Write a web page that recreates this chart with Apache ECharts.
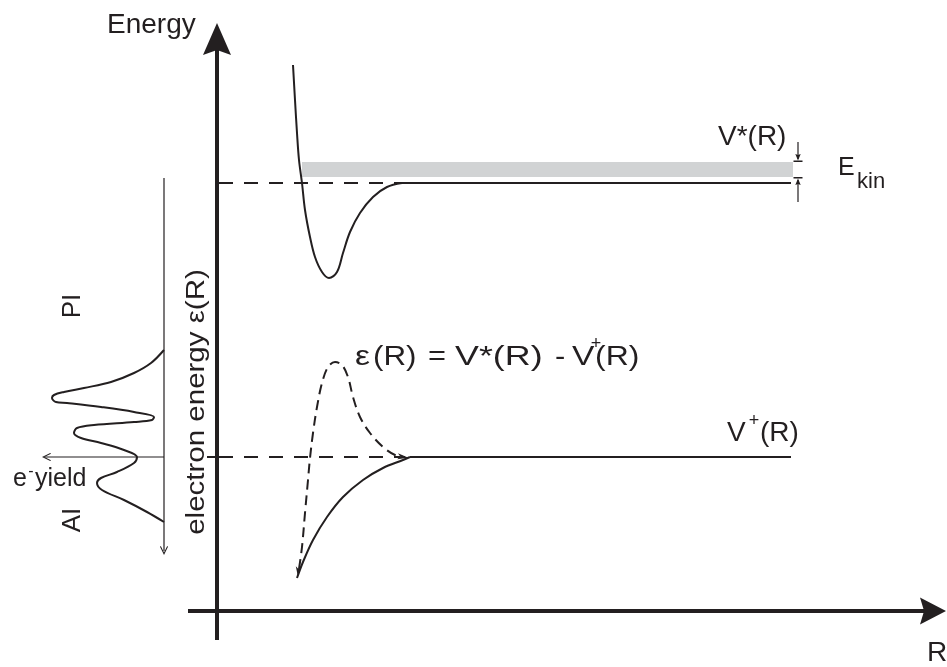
<!DOCTYPE html>
<html>
<head>
<meta charset="utf-8">
<script src="https://cdn.jsdelivr.net/npm/echarts@6/dist/echarts.min.js"></script>
<style>
  html, body { margin: 0; padding: 0; background: #ffffff; }
  #chart { width: 947px; height: 667px; }
</style>
</head>
<body>
<div id="chart"></div>
<script>
// Potential curves of the excited state V*(R) and the ionic state V+(R),
// the electron energy eps(R) = V*(R) - V+(R), and the resulting e- spectrum (PI / AI).
// Units: R to the right, energy upward (arbitrary units, origin at the axis crossing).

// Excited state V*(R)
const vStarR = [7.6, 7.8, 8.0, 8.2, 8.5, 8.8, 9.3, 9.8, 10.5, 11.2, 12.0, 12.6, 13.3, 14.3, 15.6, 17.0, 18.5];
const vStarE = [54.6, 51.1, 47.8, 45.1, 42.8, 40.1, 37.4, 35.4, 33.9, 33.3, 33.9, 35.8, 37.9, 39.8, 41.4, 42.4, 42.8];
const vStarLimit = 42.8;

// Ionic state V+(R)
const vPlusR = [8.0, 8.6, 9.6, 11.0, 12.6, 14.6, 16.6, 18.6, 19.3];
const vPlusE = [3.3, 4.9, 7.1, 9.4, 11.4, 13.1, 14.3, 15.1, 15.4];
const vPlusLimit = 15.4;

// Asymptotic range drawn for both curves
const flatStartStar = 18.5;
const flatStartPlus = 19.3;
const flatEnd = 57.4;

// Electron energy eps(R)
const epsR = [8.2, 8.5, 8.8, 9.1, 9.3, 9.6, 10.0, 10.5, 11.1, 11.8, 12.5, 13.1, 13.6, 14.3, 15.3, 16.6, 17.8, 18.8];
const epsE = [4.2, 6.4, 9.8, 13.1, 15.3, 17.8, 20.4, 22.8, 24.4, 24.9, 24.6, 23.4, 21.4, 19.4, 17.8, 16.4, 15.6, 15.4];

// Kinetic energy band above the V* asymptote
const bandR = [8.5, 57.6];
const bandE = [43.4, 44.9];

// Electron yield spectrum (energy vs. yield, yield drawn toward the left)
const yieldE = [26.1, 24.8, 23.8, 22.9, 22.3, 21.9, 21.6, 21.3, 20.9, 20.8, 20.4, 19.9, 19.4, 19.1, 18.9,
                18.6, 18.3, 17.8, 17.3, 16.8, 16.1, 15.4, 14.8, 13.9, 13.3, 12.8, 12.1, 11.1, 9.9, 8.9];
const yieldI = [0, 1.3, 3.0, 5.3, 8.0, 10.0, 11.0, 11.2, 10.8, 9.7, 6.3, 3.0, 1.0, 1.2, 3.0,
                7.0, 8.7, 9.0, 8.3, 6.3, 4.0, 2.7, 3.0, 4.7, 6.3, 6.7, 6.2, 4.0, 1.7, 0];
const spectrumBase = -5.3;
const spectrumTop = 43.3;
const spectrumBottom = 5.6;
const yieldTip = -17.5;

// Main axes
const axisMinR = -2.9, axisTipR = 72.9;
const axisMinE = -2.9, axisTipE = 58.8;

// E_kin indicator
const ekinR = 58.1;
const ekinTopFrom = 46.9;
const ekinBottomFrom = 40.9;

const INK = '#231f20';
const FONT = '"Liberation Sans", Arial, Helvetica, sans-serif';

const zip = (xs, ys) => xs.map((x, i) => [x, ys[i]]);

const ARROW = 'path://M14,0 L28,32 L14,27 L0,32 Z';
const THIN_ARROW = 'path://M5,0 L10,12 L5,9 L0,12 Z';
const CHEVRON = 'path://M5,0 L10,9 L9,9.8 L5,2.6 L1,9.8 L0,9 Z';
const BAR_ARROW = 'path://M0,0 L10,0 L10,1.6 L0,1.6 Z M5,1.6 L8,8 L5,7 L2,8 Z';

function seg(data, width, type, extra) {
  return Object.assign({
    type: 'line', data: data, symbol: 'none', silent: true, clip: false,
    lineStyle: { color: INK, width: width, type: type || 'solid', cap: 'butt' },
    z: 3
  }, extra || {});
}

function txt(text, x, y, size, opt) {
  opt = opt || {};
  return {
    type: 'text', x: x, y: y,
    rotation: opt.rotation || 0,
    scaleX: opt.scaleX || 1, scaleY: opt.scaleY || 1,
    silent: true, z: 10,
    style: {
      text: text, fill: INK,
      font: size + 'px ' + FONT,
      align: opt.align || 'left', textAlign: opt.align || 'left',
      verticalAlign: 'middle', textVerticalAlign: 'middle'
    }
  };
}

const spectrum = yieldE.map((e, i) => [spectrumBase - yieldI[i], e]);

const arrowHeads = [
  { value: [0, axisTipE], symbol: ARROW, symbolSize: [28, 32], symbolRotate: 0, symbolOffset: [0, 16] },
  { value: [axisTipR, 0], symbol: ARROW, symbolSize: [27, 26], symbolRotate: -90, symbolOffset: [-13, 0] },
  { value: [spectrumBase, spectrumBottom], symbol: CHEVRON, symbolSize: [8, 9], symbolRotate: 180, symbolOffset: [0, -4.5] },
  { value: [yieldTip, vPlusLimit], symbol: CHEVRON, symbolSize: [8, 9], symbolRotate: 90, symbolOffset: [4.5, 0] },
  { value: [epsR[epsR.length - 1] + 0.3, vPlusLimit], symbol: THIN_ARROW, symbolSize: [6, 11], symbolRotate: -98, symbolOffset: [-5, 0] },
  { value: [epsR[0] - 0.1, epsE[0] - 0.6], symbol: THIN_ARROW, symbolSize: [5, 9], symbolRotate: 176, symbolOffset: [0, -4] },
  { value: [ekinR, bandE[1]], symbol: BAR_ARROW, symbolSize: [9, 8], symbolRotate: 180, symbolOffset: [0, -4] },
  { value: [ekinR, bandE[0]], symbol: BAR_ARROW, symbolSize: [9, 8], symbolRotate: 0, symbolOffset: [0, 4] }
];

const chart = echarts.init(document.getElementById('chart'), null, { renderer: 'canvas' });

chart.setOption({
  animation: false,
  backgroundColor: '#ffffff',
  grid: { left: 0, right: 0, top: 0, bottom: 0, containLabel: false },
  xAxis: { type: 'value', min: -21.7, max: 73.0, show: false },
  yAxis: { type: 'value', min: -5.6, max: 61.1, show: false },
  series: [
    // kinetic energy band
    {
      type: 'line', data: [], symbol: 'none', silent: true,
      markArea: {
        silent: true,
        itemStyle: { color: '#d1d3d4' },
        data: [[{ coord: [bandR[0], bandE[1]] }, { coord: [bandR[1], bandE[0]] }]]
      },
      z: 1
    },
    // axes
    seg([[0, axisMinE], [0, axisTipE - 2.2]], 4),
    seg([[axisMinR, 0], [axisTipR - 1.6, 0]], 4),
    // asymptote guides
    seg([[0.2, vStarLimit], [flatStartStar, vStarLimit]], 2, [14, 11]),
    seg([[0.2, vPlusLimit], [flatStartStar - 0.2, vPlusLimit]], 2, [14, 11]),
    seg([[-1.0, vPlusLimit], [0, vPlusLimit]], 2),
    // V*(R)
    seg(zip(vStarR, vStarE), 2, 'solid', { smooth: 0.35 }),
    seg([[flatStartStar, vStarLimit], [flatEnd, vStarLimit]], 2),
    // V+(R)
    seg(zip(vPlusR, vPlusE), 2, 'solid', { smooth: 0.35 }),
    seg([[flatStartPlus, vPlusLimit], [flatEnd, vPlusLimit]], 2),
    // eps(R)
    seg(zip(epsR, epsE), 2, [10, 6], { smooth: 0.35 }),
    // electron spectrum with its axes
    seg([[spectrumBase, spectrumTop], [spectrumBase, spectrumBottom + 0.4]], 1.2),
    seg([[spectrumBase, vPlusLimit], [yieldTip + 0.3, vPlusLimit]], 1.2),
    seg(spectrum, 2, 'solid', { smooth: 0.35 }),
    // E_kin indicator stems
    seg([[ekinR, ekinTopFrom], [ekinR, bandE[1] + 0.3]], 1.2),
    seg([[ekinR, ekinBottomFrom], [ekinR, bandE[0] - 0.3]], 1.2),
    // arrow heads
    {
      type: 'scatter', data: arrowHeads, silent: true, clip: false,
      itemStyle: { color: INK, opacity: 1 }, z: 4
    }
  ],
  graphic: {
    elements: [
      txt('Energy', 107, 25, 28),
      txt('R', 937, 653, 28, { align: 'center' }),
      txt('V*(R)', 718, 137, 28),
      txt('E', 838, 168, 25),
      txt('kin', 857, 182, 22),
      txt('V', 727, 433, 28),
      txt('+', 754, 421, 18, { align: 'center' }),
      txt('(R)', 760, 433, 28),
      // eps(R) = V*(R) - V+(R)
      txt('ε', 355, 357, 28, { scaleX: 1.2 }),
      txt('(R)', 373, 357, 28, { scaleX: 1.12 }),
      txt('=', 428, 357, 28, { scaleX: 1.1 }),
      txt('V*(R)', 455, 357, 28, { scaleX: 1.28 }),
      txt('-', 555, 357, 28, { scaleX: 1.1 }),
      txt('V', 572, 357, 28, { scaleX: 1.2 }),
      txt('+', 596, 344, 18, { align: 'center' }),
      txt('(R)', 595, 357, 28, { scaleX: 1.14 }),
      // spectrum labels
      txt('e', 13, 479, 25),
      txt('-', 31, 472, 16, { align: 'center' }),
      txt('yield', 35, 479, 25),
      txt('PI', 73, 306, 26, { align: 'center', rotation: Math.PI / 2 }),
      txt('AI', 73, 520, 26, { align: 'center', rotation: Math.PI / 2 }),
      txt('electron energy ε(R)', 197, 402, 25, { align: 'center', rotation: Math.PI / 2, scaleX: 1.18 })
    ]
  }
});
</script>
</body>
</html>
